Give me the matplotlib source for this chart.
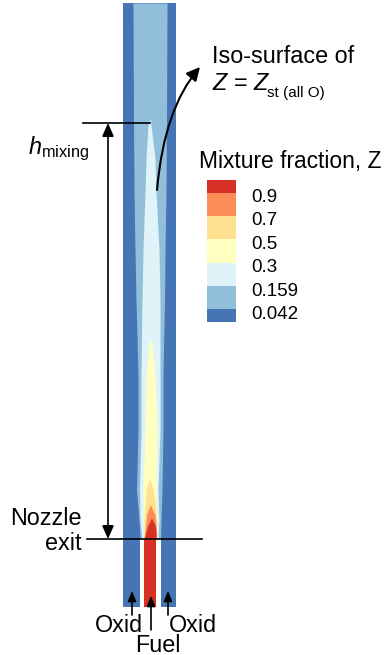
import matplotlib
matplotlib.use('Agg')
import matplotlib.pyplot as plt
from matplotlib.colors import ListedColormap, BoundaryNorm
from matplotlib.cm import ScalarMappable
from matplotlib.patches import FancyArrowPatch
from matplotlib.path import Path
from matplotlib import transforms

plt.rcParams['font.family'] = ['Liberation Sans', 'DejaVu Sans']
plt.rcParams['mathtext.fontset'] = 'custom'
plt.rcParams['mathtext.rm'] = 'Liberation Sans'
plt.rcParams['mathtext.it'] = 'Liberation Sans:italic'

# contour levels of the mixture fraction and their colours
levels = [0.042, 0.159, 0.3, 0.5, 0.7, 0.9]
level_labels = ['0.042', '0.159', '0.3', '0.5', '0.7', '0.9']
color_under = '#4575b4'
colors_mid = ['#91bfdb', '#e0f3f8', '#ffffbf', '#fee090', '#fc8d59']
color_over = '#d73027'

# geometry, mm (x = 0 on the axis, y = 0 at the nozzle exit)
r_outer = 5.3
oxid_left = [-5.3, -1.9]
oxid_right = [2.2, 5.3]
fuel = [-1.1, 1.3]
inlet_depth = 13.6
domain_top = 107.2
z_fuel = 1.0
z_oxid = 0.0
h_mixing = 83.2

# iso-contour edges: height, left edge, right edge (mm)
c042_h = [0, 3.8, 9.8, 21.8, 32.8, 47.8, 57.8, 69.8, 83.8, 107.2]
c042_l = [-1.9, -2.1, -2.6, -2.3, -2.3, -2.7, -2.9, -3.1, -3.2, -3.3]
c042_r = [2.2, 2.3, 2.5, 2.7, 2.7, 3.0, 3.1, 3.3, 3.4, 3.5]

c159_h = [0, 3.8, 9.8, 21.8, 32.8, 47.8, 57.8, 69.4, 76.2, 82.8, 84.2]
c159_l = [-1.5, -1.9, -2.0, -1.7, -1.7, -1.5, -1.3, -0.9, -0.7, -0.3, 0.2]
c159_r = [1.7, 1.9, 1.7, 2.1, 2.1, 2.1, 1.9, 1.3, 1.1, 0.3, 0.2]

c300_h = [0, 3.8, 9.8, 21.8, 32.8, 38.8, 40.2]
c300_l = [-1.1, -1.3, -1.3, -0.9, -0.7, -0.1, 0.1]
c300_r = [1.5, 1.5, 1.3, 1.5, 1.1, 0.5, 0.1]

c500_h = [0, 3.8, 6.8, 9.8, 12.2]
c500_l = [-1.1, -1.1, -0.9, -0.7, 0.0]
c500_r = [1.4, 1.4, 1.2, 0.8, 0.0]

c700_h = [0, 1.8, 4.8, 6.8]
c700_l = [-1.1, -0.9, -0.6, 0.1]
c700_r = [1.4, 1.4, 1.1, 0.2]

c900_h = [0, 1.4, 2.8, 4.2]
c900_l = [-1.1, -0.7, -0.3, 0.4]
c900_r = [1.3, 1.3, 1.1, 0.4]

cmap = ListedColormap(colors_mid)
cmap.set_under(color_under)
cmap.set_over(color_over)
norm = BoundaryNorm(levels, cmap.N)

fs = 16.8

fig = plt.figure(figsize=(3.88, 6.55), dpi=100)
ax = fig.add_axes([0, 0, 1, 1])
ax.set_xlim(-29.9, 47.7)
ax.set_ylim(-23.2, 107.8)
ax.axis('off')

# inlet channels
ax.fill_betweenx([-inlet_depth, 0], oxid_left[0], oxid_left[1], color=cmap(norm(z_oxid)), lw=0)
ax.fill_betweenx([-inlet_depth, 0], oxid_right[0], oxid_right[1], color=cmap(norm(z_oxid)), lw=0)
ax.fill_betweenx([-inlet_depth, 0], fuel[0], fuel[1], color=cmap(norm(z_fuel)), lw=0)

# mixing section: background + nested iso-contours
ax.fill_betweenx([0, domain_top], -r_outer, r_outer, color=cmap(norm(z_oxid)), lw=0)
contours = [(c042_h, c042_l, c042_r), (c159_h, c159_l, c159_r), (c300_h, c300_l, c300_r),
            (c500_h, c500_l, c500_r), (c700_h, c700_l, c700_r), (c900_h, c900_l, c900_r)]
for lv, (h, l, r) in zip(levels, contours):
    ax.fill_betweenx(h, l, r, color=cmap(norm(lv)), lw=0)

# nozzle exit and h_mixing lines
ax.plot([-12.5, 10.5], [0, 0], color='k', lw=1.2)
ax.plot([-13.3, 0.1], [h_mixing, h_mixing], color='k', lw=1.2)
ax.annotate('', xy=(-8.3, h_mixing), xytext=(-8.3, 0),
            arrowprops=dict(arrowstyle='<|-|>,head_length=0.5,head_width=0.22', color='k',
                            lw=1.2, mutation_scale=16, shrinkA=0, shrinkB=0))
ax.text(-24.3, 77.0, r'$h_{\mathrm{mixing}}$', fontsize=fs, ha='left', va='baseline')
ax.text(-13.56, 2.8, 'Nozzle', fontsize=fs, ha='right', va='baseline')
ax.text(-13.56, -2.2, 'exit', fontsize=fs, ha='right', va='baseline')

# inlet arrows
for x, y0, y1 in [(-3.5, -15.2, -10.4), (0.3, -18.2, -11.4), (3.7, -15.2, -10.4)]:
    ax.annotate('', xy=(x, y1), xytext=(x, y0),
                arrowprops=dict(arrowstyle='-|>,head_length=0.6,head_width=0.25', color='k',
                                lw=1.2, mutation_scale=10, shrinkA=0, shrinkB=0))
ax.text(-6.2, -18.7, 'Oxid', fontsize=fs, ha='center', va='baseline')
ax.text(8.7, -18.7, 'Oxid', fontsize=fs, ha='center', va='baseline')
ax.text(1.6, -22.5, 'Fuel', fontsize=fs, ha='center', va='baseline')

# iso-surface annotation
curve = Path([(1.5, 69.8), (2.9, 86.0), (10.1, 94.4)], [Path.MOVETO, Path.CURVE3, Path.CURVE3])
arr = FancyArrowPatch(path=curve, arrowstyle='-|>,head_length=0.5,head_width=0.25', color='k',
                      lw=1.5, mutation_scale=16)
ax.add_patch(arr)
ax.text(12.6, 95.2, 'Iso-surface of', fontsize=fs, ha='left', va='baseline')
t_eq = ax.text(12.6, 89.8, r'$Z$ = $Z$', fontsize=fs, ha='left', va='baseline')
ax.annotate('st (all O)', xy=(1, 0), xycoords=t_eq, xytext=(-2.5, -1.5), textcoords='offset points',
            fontsize=11, ha='left', va='baseline')

# legend
ax.text(9.9, 74.2, 'Mixture fraction, Z', fontsize=16.4, ha='left', va='baseline')
cax = fig.add_axes([207 / 388, 1 - 322 / 655, 29 / 388, 142 / 655])
sm = ScalarMappable(norm=norm, cmap=cmap)
cb = fig.colorbar(sm, cax=cax, extend='both', extendrect=True, extendfrac=0.107,
                  spacing='uniform', drawedges=False)
cb.set_ticks(levels, labels=level_labels)
cb.outline.set_visible(False)
cax.tick_params(length=0, pad=11, labelsize=13.5)
shift = transforms.ScaledTranslation(0, -3 / 100, fig.dpi_scale_trans)
for t in cax.get_yticklabels():
    t.set_transform(t.get_transform() + shift)

fig.savefig('out.png', dpi=100)
